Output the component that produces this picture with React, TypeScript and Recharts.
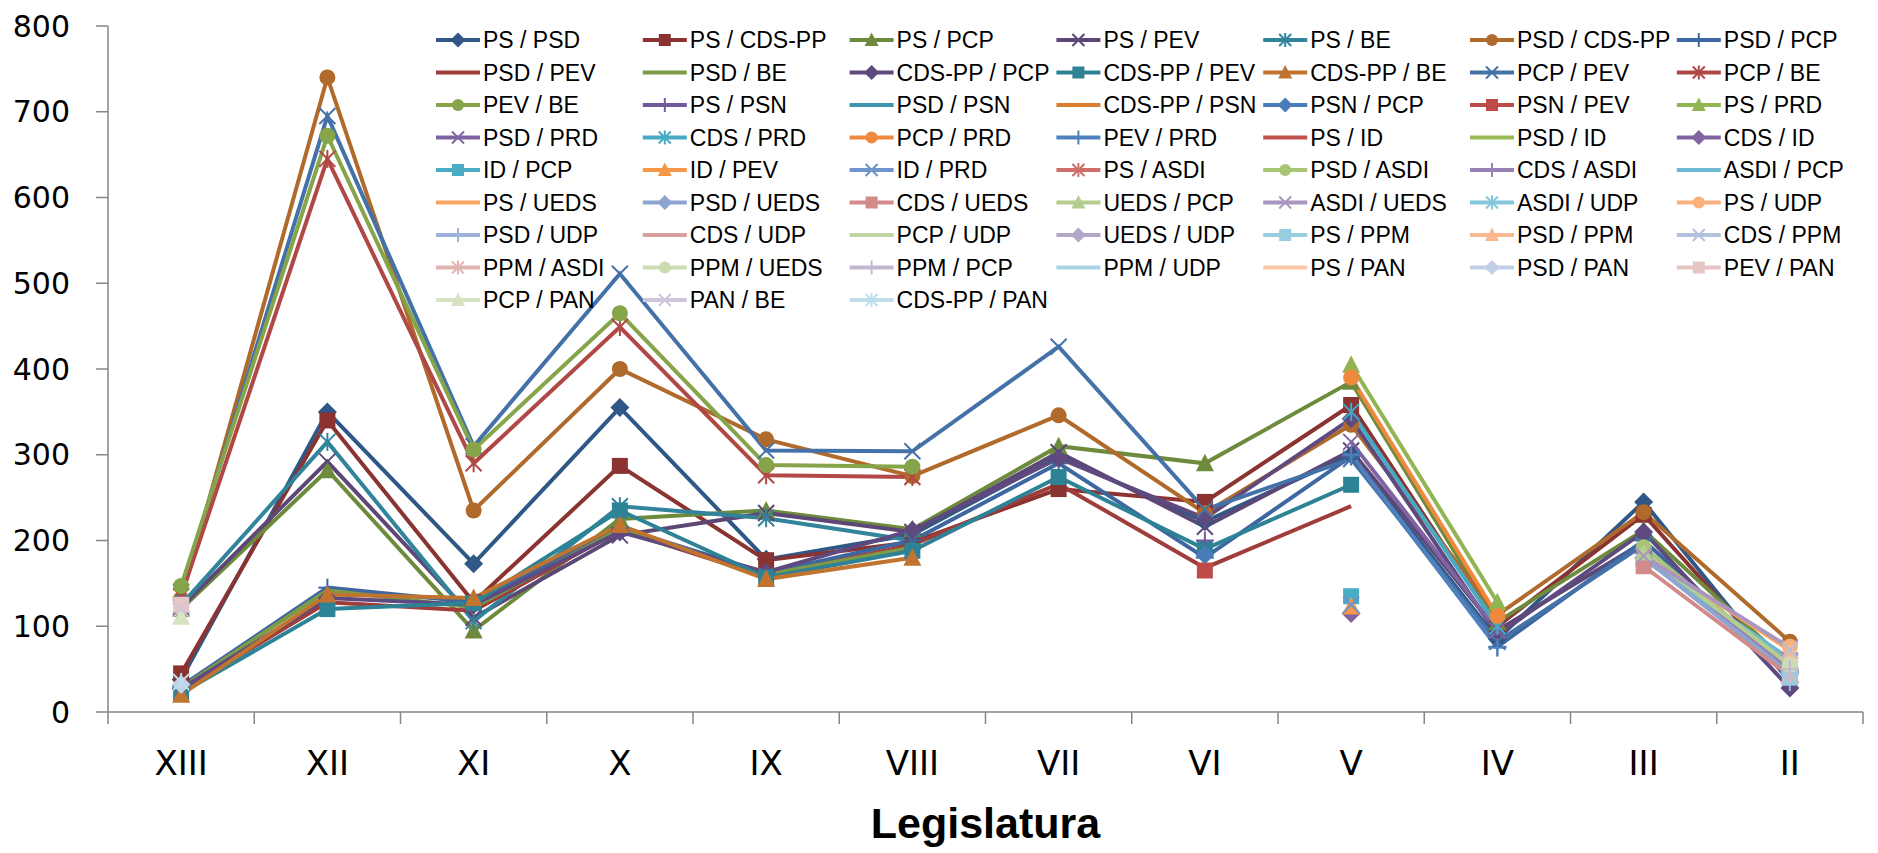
import { LineChart, Line, XAxis, YAxis, Legend } from 'recharts';

const legislaturas = ['XIII', 'XII', 'XI', 'X', 'IX', 'VIII', 'VII', 'VI', 'V', 'IV', 'III', 'II'];
const yTicks = [0, 100, 200, 300, 400, 500, 600, 700, 800];

type V = number | null;
const _ = null;

// XIII -> II
const psPsd: V[] = [38, 350, 173, 355, 178, 207, 298, 222, 300, 85, 245, 35];
const psCds: V[] = [45, 340, 128, 287, 177, 198, 260, 245, 358, 100, 230, 40];
const psPcp: V[] = [120, 282, 95, 225, 235, 213, 310, 290, 385, 105, 212, 55];
const psPev: V[] = [122, 292, 110, 206, 232, 210, 303, 216, 305, 95, 198, _];
const psBe: V[] = [125, 315, 106, 240, 226, 200, _, _, _, _, _, _];
const psdCds: V[] = [132, 740, 235, 400, 318, 275, 346, 232, 335, 113, 233, 82];
const psdPcp: V[] = [30, 145, 128, 215, 162, 200, 290, 180, 298, 76, 200, 45];
const psdPev: V[] = [25, 128, 118, 212, 158, 195, 266, 168, 240, _, _, _];
const psdBe: V[] = [28, 142, 122, 213, 160, 192, _, _, _, _, _, _];
const cdsPcp: V[] = [27, 133, 125, 210, 163, 212, 296, 226, 342, 90, 210, 28];
const cdsPev: V[] = [22, 120, 127, 235, 157, 188, 274, 190, 265, _, _, _];
const cdsBe: V[] = [20, 137, 133, 218, 155, 180, _, _, _, _, _, _];
const pcpPev: V[] = [140, 695, 310, 511, 305, 304, 426, 236, 295, 82, 195, _];
const pcpBe: V[] = [135, 645, 290, 449, 276, 274, _, _, _, _, _, _];
const pevBe: V[] = [147, 672, 306, 465, 288, 286, _, _, _, _, _, _];
const psPsn: V[] = [_, _, _, _, _, _, _, 200, _, _, _, _];
const psdPsn: V[] = [_, _, _, _, _, _, _, 195, _, _, _, _];
const cdsPsn: V[] = [_, _, _, _, _, _, _, 188, _, _, _, _];
const psnPcp: V[] = [_, _, _, _, _, _, _, 183, _, _, _, _];
const psnPev: V[] = [_, _, _, _, _, _, _, 165, _, _, _, _];
const psPrd: V[] = [_, _, _, _, _, _, _, _, 405, 128, _, _];
const psdPrd: V[] = [_, _, _, _, _, _, _, _, 315, 95, _, _];
const cdsPrd: V[] = [_, _, _, _, _, _, _, _, 350, 100, _, _];
const pcpPrd: V[] = [_, _, _, _, _, _, _, _, 390, 112, _, _];
const pevPrd: V[] = [_, _, _, _, _, _, _, _, 300, 75, _, _];
const psId: V[] = [_, _, _, _, _, _, _, _, 130, _, _, _];
const psdId: V[] = [_, _, _, _, _, _, _, _, 118, _, _, _];
const cdsId: V[] = [_, _, _, _, _, _, _, _, 115, _, _, _];
const idPcp: V[] = [_, _, _, _, _, _, _, _, 135, _, _, _];
const idPev: V[] = [_, _, _, _, _, _, _, _, 123, _, _, _];
const idPrd: V[] = [_, _, _, _, _, _, _, _, 125, _, _, _];
const psAsdi: V[] = [_, _, _, _, _, _, _, _, _, _, 180, 60];
const psdAsdi: V[] = [_, _, _, _, _, _, _, _, _, _, 192, 52];
const cdsAsdi: V[] = [_, _, _, _, _, _, _, _, _, _, 185, 48];
const asdiPcp: V[] = [_, _, _, _, _, _, _, _, _, _, 178, 62];
const psUeds: V[] = [_, _, _, _, _, _, _, _, _, _, 183, 72];
const psdUeds: V[] = [_, _, _, _, _, _, _, _, _, _, 180, 45];
const cdsUeds: V[] = [_, _, _, _, _, _, _, _, _, _, 170, 42];
const uedsPcp: V[] = [_, _, _, _, _, _, _, _, _, _, 186, 55];
const asdiUeds: V[] = [_, _, _, _, _, _, _, _, _, _, 182, 75];
const asdiUdp: V[] = [_, _, _, _, _, _, _, _, _, _, _, 50];
const psUdp: V[] = [_, _, _, _, _, _, _, _, _, _, _, 76];
const psdUdp: V[] = [_, _, _, _, _, _, _, _, _, _, _, 35];
const cdsUdp: V[] = [_, _, _, _, _, _, _, _, _, _, _, 38];
const pcpUdp: V[] = [_, _, _, _, _, _, _, _, _, _, _, 62];
const uedsUdp: V[] = [_, _, _, _, _, _, _, _, _, _, _, 46];
const psPpm: V[] = [_, _, _, _, _, _, _, _, _, _, _, 40];
const psdPpm: V[] = [_, _, _, _, _, _, _, _, _, _, _, 70];
const cdsPpm: V[] = [_, _, _, _, _, _, _, _, _, _, _, 72];
const ppmAsdi: V[] = [_, _, _, _, _, _, _, _, _, _, _, 44];
const ppmUeds: V[] = [_, _, _, _, _, _, _, _, _, _, _, 55];
const ppmPcp: V[] = [_, _, _, _, _, _, _, _, _, _, _, 50];
const ppmUdp: V[] = [_, _, _, _, _, _, _, _, _, _, _, 40];
const psPan: V[] = [98, _, _, _, _, _, _, _, _, _, _, _];
const psdPan: V[] = [32, _, _, _, _, _, _, _, _, _, _, _];
const pevPan: V[] = [125, _, _, _, _, _, _, _, _, _, _, _];
const pcpPan: V[] = [111, _, _, _, _, _, _, _, _, _, _, _];
const panBe: V[] = [120, _, _, _, _, _, _, _, _, _, _, _];
const cdsPan: V[] = [35, _, _, _, _, _, _, _, _, _, _, _];

type MarkerType = 'diamond' | 'square' | 'triangle' | 'x' | 'star' | 'circle' | 'plus' | 'none';

const SERIES: { name: string; data: V[]; color: string; marker: MarkerType }[] = [
  { name: 'PS / PSD', data: psPsd, color: '#2F5887', marker: 'diamond' },
  { name: 'PS / CDS-PP', data: psCds, color: '#8A3331', marker: 'square' },
  { name: 'PS / PCP', data: psPcp, color: '#6E8B3D', marker: 'triangle' },
  { name: 'PS / PEV', data: psPev, color: '#5C4776', marker: 'x' },
  { name: 'PS / BE', data: psBe, color: '#31849B', marker: 'star' },
  { name: 'PSD / CDS-PP', data: psdCds, color: '#B06A2C', marker: 'circle' },
  { name: 'PSD / PCP', data: psdPcp, color: '#3C67A0', marker: 'plus' },
  { name: 'PSD / PEV', data: psdPev, color: '#A03C3A', marker: 'none' },
  { name: 'PSD / BE', data: psdBe, color: '#7D9A46', marker: 'none' },
  { name: 'CDS-PP / PCP', data: cdsPcp, color: '#5E4A7E', marker: 'diamond' },
  { name: 'CDS-PP / PEV', data: cdsPev, color: '#2E8296', marker: 'square' },
  { name: 'CDS-PP / BE', data: cdsBe, color: '#C0742F', marker: 'triangle' },
  { name: 'PCP / PEV', data: pcpPev, color: '#4472A8', marker: 'x' },
  { name: 'PCP / BE', data: pcpBe, color: '#B04845', marker: 'star' },
  { name: 'PEV / BE', data: pevBe, color: '#86A44A', marker: 'circle' },
  { name: 'PS / PSN', data: psPsn, color: '#71589B', marker: 'plus' },
  { name: 'PSD / PSN', data: psdPsn, color: '#3A95AD', marker: 'none' },
  { name: 'CDS-PP / PSN', data: cdsPsn, color: '#DB7E30', marker: 'none' },
  { name: 'PSN / PCP', data: psnPcp, color: '#4A7CBA', marker: 'diamond' },
  { name: 'PSN / PEV', data: psnPev, color: '#BE4B48', marker: 'square' },
  { name: 'PS / PRD', data: psPrd, color: '#92B553', marker: 'triangle' },
  { name: 'PSD / PRD', data: psdPrd, color: '#8064A2', marker: 'x' },
  { name: 'CDS / PRD', data: cdsPrd, color: '#46AAC5', marker: 'star' },
  { name: 'PCP / PRD', data: pcpPrd, color: '#F0893E', marker: 'circle' },
  { name: 'PEV / PRD', data: pevPrd, color: '#4F81BD', marker: 'plus' },
  { name: 'PS / ID', data: psId, color: '#C0504D', marker: 'none' },
  { name: 'PSD / ID', data: psdId, color: '#9BBB59', marker: 'none' },
  { name: 'CDS / ID', data: cdsId, color: '#8064A2', marker: 'diamond' },
  { name: 'ID / PCP', data: idPcp, color: '#4BACC6', marker: 'square' },
  { name: 'ID / PEV', data: idPev, color: '#F79646', marker: 'triangle' },
  { name: 'ID / PRD', data: idPrd, color: '#7094CC', marker: 'x' },
  { name: 'PS / ASDI', data: psAsdi, color: '#CD6E6C', marker: 'star' },
  { name: 'PSD / ASDI', data: psdAsdi, color: '#A8C475', marker: 'circle' },
  { name: 'CDS / ASDI', data: cdsAsdi, color: '#9781B5', marker: 'plus' },
  { name: 'ASDI / PCP', data: asdiPcp, color: '#6DBBD3', marker: 'none' },
  { name: 'PS / UEDS', data: psUeds, color: '#F9A562', marker: 'none' },
  { name: 'PSD / UEDS', data: psdUeds, color: '#8DA6D1', marker: 'diamond' },
  { name: 'CDS / UEDS', data: cdsUeds, color: '#D28B89', marker: 'square' },
  { name: 'UEDS / PCP', data: uedsPcp, color: '#B5CD8E', marker: 'triangle' },
  { name: 'ASDI / UEDS', data: asdiUeds, color: '#A996C0', marker: 'x' },
  { name: 'ASDI / UDP', data: asdiUdp, color: '#84C6DA', marker: 'star' },
  { name: 'PS / UDP', data: psUdp, color: '#F9B07B', marker: 'circle' },
  { name: 'PSD / UDP', data: psdUdp, color: '#9DB3D9', marker: 'plus' },
  { name: 'CDS / UDP', data: cdsUdp, color: '#D9A09E', marker: 'none' },
  { name: 'PCP / UDP', data: pcpUdp, color: '#C1D5A2', marker: 'none' },
  { name: 'UEDS / UDP', data: uedsUdp, color: '#B4A6C9', marker: 'diamond' },
  { name: 'PS / PPM', data: psPpm, color: '#98CCE0', marker: 'square' },
  { name: 'PSD / PPM', data: psdPpm, color: '#FAB891', marker: 'triangle' },
  { name: 'CDS / PPM', data: cdsPpm, color: '#B1C1DE', marker: 'x' },
  { name: 'PPM / ASDI', data: ppmAsdi, color: '#E0B4B3', marker: 'star' },
  { name: 'PPM / UEDS', data: ppmUeds, color: '#CCDCB2', marker: 'circle' },
  { name: 'PPM / PCP', data: ppmPcp, color: '#C3B8D4', marker: 'plus' },
  { name: 'PPM / UDP', data: ppmUdp, color: '#A9D3E3', marker: 'none' },
  { name: 'PS / PAN', data: psPan, color: '#FAC7A6', marker: 'none' },
  { name: 'PSD / PAN', data: psdPan, color: '#C3CFE5', marker: 'diamond' },
  { name: 'PEV / PAN', data: pevPan, color: '#E6C6C5', marker: 'square' },
  { name: 'PCP / PAN', data: pcpPan, color: '#D6E3C2', marker: 'triangle' },
  { name: 'PAN / BE', data: panBe, color: '#CFC6DE', marker: 'x' },
  { name: 'CDS-PP / PAN', data: cdsPan, color: '#BDDDEA', marker: 'star' },
];

const rows = legislaturas.map((leg, i) => {
  const row: Record<string, string | V> = { leg };
  SERIES.forEach((s, k) => {
    row['s' + k] = s.data[i];
  });
  return row;
});

const W = 1878;
const H = 853;
const Y_AXIS_W = 108;
const RIGHT = 15;
const PLOT_W = W - Y_AXIS_W - RIGHT;
const BAND = PLOT_W / legislaturas.length;
const AXIS_GREY = '#868686';

function Marker({ type, cx, cy, color, size = 16 }: { type: MarkerType; cx: number; cy: number; color: string; size?: number }) {
  const h = size / 2;
  switch (type) {
    case 'diamond':
      return <polygon points={`${cx},${cy - h - 1.5} ${cx + h + 1.5},${cy} ${cx},${cy + h + 1.5} ${cx - h - 1.5},${cy}`} fill={color} />;
    case 'square':
      return <rect x={cx - h} y={cy - h} width={size} height={size} fill={color} />;
    case 'triangle':
      return <polygon points={`${cx},${cy - h - 1.5} ${cx + h + 1},${cy + h} ${cx - h - 1},${cy + h}`} fill={color} />;
    case 'circle':
      return <circle cx={cx} cy={cy} r={h} fill={color} />;
    case 'x':
      return (
        <g stroke={color} strokeWidth={2}>
          <line x1={cx - h} y1={cy - h} x2={cx + h} y2={cy + h} />
          <line x1={cx - h} y1={cy + h} x2={cx + h} y2={cy - h} />
        </g>
      );
    case 'star':
      return (
        <g stroke={color} strokeWidth={2}>
          <line x1={cx - h} y1={cy - h} x2={cx + h} y2={cy + h} />
          <line x1={cx - h} y1={cy + h} x2={cx + h} y2={cy - h} />
          <line x1={cx} y1={cy - h - 1} x2={cx} y2={cy + h + 1} />
        </g>
      );
    case 'plus':
      return (
        <g stroke={color} strokeWidth={2}>
          <line x1={cx} y1={cy - h - 1} x2={cx} y2={cy + h + 1} />
          <line x1={cx - h - 1} y1={cy} x2={cx + h + 1} y2={cy} />
        </g>
      );
    default:
      return null;
  }
}

function XTick(props: any) {
  const { x, y, payload, index } = props;
  return (
    <g>
      <line x1={x - BAND / 2} x2={x - BAND / 2} y1={y} y2={y + 12} stroke={AXIS_GREY} strokeWidth={1.5} />
      {index === legislaturas.length - 1 && (
        <line x1={x + BAND / 2} x2={x + BAND / 2} y1={y} y2={y + 12} stroke={AXIS_GREY} strokeWidth={1.5} />
      )}
      <text x={x} y={y + 63} textAnchor="middle" fontSize={34} fontFamily="DejaVu Sans" fill="#000">
        {payload.value}
      </text>
    </g>
  );
}

function renderLegend() {
  return (
    <svg width={W} height={320} style={{ overflow: 'visible' }}>
      {SERIES.map((s, k) => {
        const x = 436 + (k % 7) * 206.8;
        const y = 40 + Math.floor(k / 7) * 32.5;
        return (
          <g key={s.name}>
            <line x1={x} x2={x + 44} y1={y} y2={y} stroke={s.color} strokeWidth={4} />
            <Marker type={s.marker} cx={x + 22} cy={y} color={s.color} size={12} />
            <text x={x + 47} y={y + 8} fontSize={23} fontFamily="'Liberation Sans Narrow', 'Arial Narrow', sans-serif" fill="#000">
              {s.name}
            </text>
          </g>
        );
      })}
    </svg>
  );
}

export default function App() {
  return (
    <div style={{ position: 'absolute', left: 0, top: 0, width: W, height: H, background: '#fff' }}>
      <LineChart width={W} height={H} data={rows} margin={{ top: 26, right: RIGHT, left: 0, bottom: 0 }}>
        <XAxis
          dataKey="leg"
          interval={0}
          height={141}
          padding={{ left: BAND / 2, right: BAND / 2 }}
          axisLine={{ stroke: AXIS_GREY, strokeWidth: 1.5 }}
          tickLine={false}
          tickSize={0}
          tickMargin={0}
          tick={<XTick />}
          label={{ value: 'Legislatura', position: 'insideBottom', offset: 15, fontSize: 43, fontWeight: 'bold', fill: '#000', fontFamily: 'Liberation Sans' }}
        />
        <YAxis
          domain={[0, 800]}
          ticks={yTicks}
          interval={0}
          width={Y_AXIS_W}
          axisLine={{ stroke: AXIS_GREY, strokeWidth: 1.5 }}
          tickLine={{ stroke: AXIS_GREY, strokeWidth: 1.5 }}
          tickSize={12}
          tickMargin={26}
          tick={{ fontSize: 30, fill: '#000', fontFamily: 'DejaVu Sans' }}
        />
        <Legend
          content={renderLegend}
          layout="horizontal"
          verticalAlign="middle"
          align="center"
          wrapperStyle={{ position: 'absolute', left: 0, top: 0, width: W, height: 320, pointerEvents: 'none' }}
        />
        {SERIES.map((s, k) => (
          <Line
            key={s.name}
            name={s.name}
            type="linear"
            dataKey={'s' + k}
            stroke={s.color}
            strokeWidth={4}
            isAnimationActive={false}
            activeDot={false}
            dot={
              s.marker === 'none'
                ? false
                : (p: any) =>
                    p.cx == null || p.cy == null || p.value == null || Number.isNaN(p.cy) ? (
                      <g key={`d${k}-${p.index}`} />
                    ) : (
                      <g key={`d${k}-${p.index}`}>
                        <Marker type={s.marker} cx={p.cx} cy={p.cy} color={s.color} />
                      </g>
                    )
            }
          />
        ))}
      </LineChart>
    </div>
  );
}
